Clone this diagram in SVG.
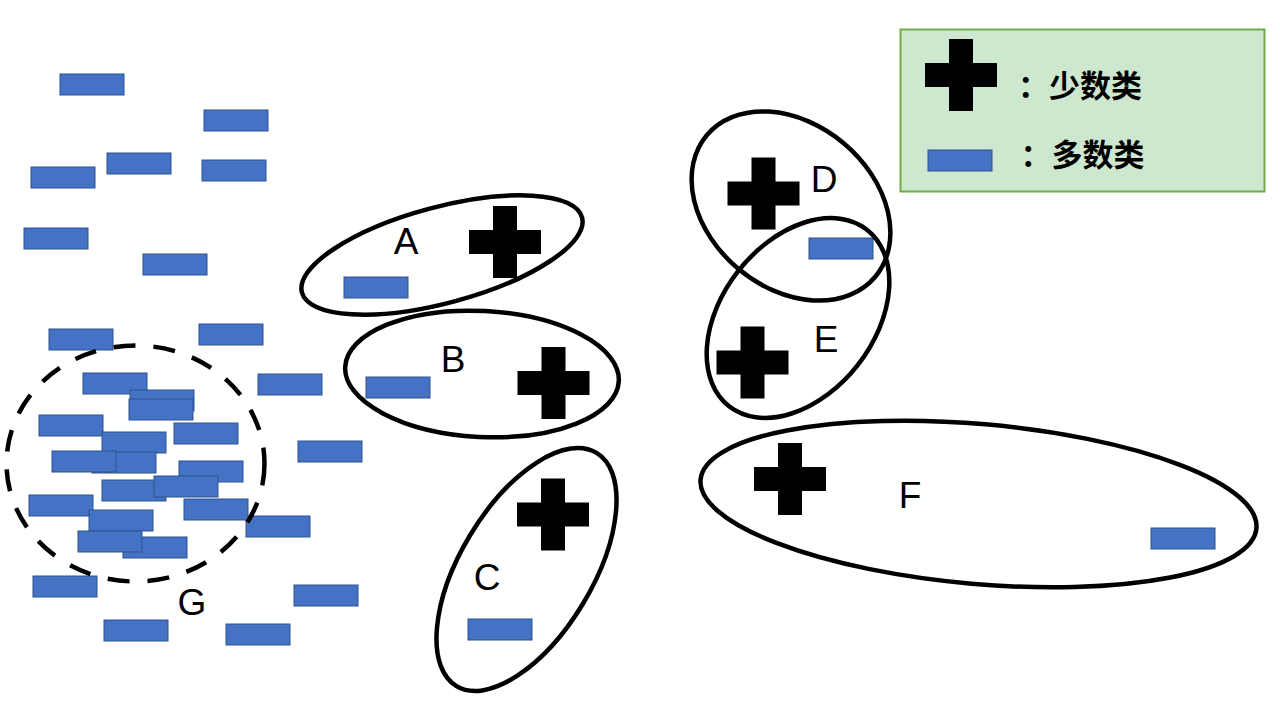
<svg xmlns="http://www.w3.org/2000/svg" xmlns:xlink="http://www.w3.org/1999/xlink" width="1280" height="720" viewBox="0 0 1280 720">
<style>
.maj{fill:#4472C4;stroke:#2F528F;stroke-width:1}
.ring{fill:none;stroke:#000;stroke-width:4.5}
.dash{fill:none;stroke:#000;stroke-width:4.5;stroke-dasharray:22 18}
.lbl{font-family:"Liberation Sans",Arial,sans-serif;font-size:37px;fill:#000;text-anchor:middle}
.leg{font-family:"Noto Sans CJK SC","Noto Sans",sans-serif;font-size:31px;font-weight:bold;fill:#000}
</style>
<defs>
<path id="plus" d="M-12,-36h24v24h24v24h-24v24h-24v-24h-24v-24h24z" fill="#000"/>
<rect id="neg" class="maj" x="0" y="0" width="64" height="21"/>
</defs>
<rect width="1280" height="720" fill="#fff"/>

<g id="scatter">
<use xlink:href="#neg" x="60" y="74"/>
<use xlink:href="#neg" x="204" y="110"/>
<use xlink:href="#neg" x="107" y="153"/>
<use xlink:href="#neg" x="31" y="167"/>
<use xlink:href="#neg" x="202" y="160"/>
<use xlink:href="#neg" x="24" y="228"/>
<use xlink:href="#neg" x="143" y="254"/>
<use xlink:href="#neg" x="49" y="329"/>
<use xlink:href="#neg" x="199" y="324"/>
<use xlink:href="#neg" x="258" y="374"/>
<use xlink:href="#neg" x="298" y="441"/>
<use xlink:href="#neg" x="246" y="516"/>
<use xlink:href="#neg" x="33" y="576"/>
<use xlink:href="#neg" x="294" y="585"/>
<use xlink:href="#neg" x="104" y="620"/>
<use xlink:href="#neg" x="226" y="624"/>
</g>

<g id="G">
<use xlink:href="#neg" x="83" y="373"/>
<use xlink:href="#neg" x="130" y="390"/>
<use xlink:href="#neg" x="129" y="399"/>
<use xlink:href="#neg" x="39" y="415"/>
<use xlink:href="#neg" x="102" y="432"/>
<use xlink:href="#neg" x="174" y="423"/>
<use xlink:href="#neg" x="92" y="452"/>
<use xlink:href="#neg" x="52" y="451"/>
<use xlink:href="#neg" x="179" y="461"/>
<use xlink:href="#neg" x="102" y="480"/>
<use xlink:href="#neg" x="154" y="476"/>
<use xlink:href="#neg" x="29" y="495"/>
<use xlink:href="#neg" x="184" y="499"/>
<use xlink:href="#neg" x="89" y="510"/>
<use xlink:href="#neg" x="123" y="537"/>
<use xlink:href="#neg" x="78" y="531"/>
<ellipse class="dash" cx="135.5" cy="463.5" rx="129" ry="118"/>
<text class="lbl" x="192" y="615">G</text>
</g>

<g id="A">
<use xlink:href="#neg" x="344" y="277"/>
<use xlink:href="#plus" x="505" y="242"/>
<ellipse class="ring" cx="442" cy="255" rx="145" ry="48" transform="rotate(-15 442 255)"/>
<text class="lbl" x="406" y="254">A</text>
</g>

<g id="B">
<use xlink:href="#neg" x="366" y="377"/>
<use xlink:href="#plus" x="553.5" y="383"/>
<ellipse class="ring" cx="482" cy="374" rx="137" ry="63" transform="rotate(3 482 374)"/>
<text class="lbl" x="453" y="372">B</text>
</g>

<g id="C">
<use xlink:href="#neg" x="468" y="619"/>
<use xlink:href="#plus" x="553" y="514.5"/>
<ellipse class="ring" cx="526.5" cy="569.5" rx="66" ry="136" transform="rotate(31 526.5 569.5)"/>
<text class="lbl" x="487" y="590">C</text>
</g>

<g id="D">
<use xlink:href="#neg" x="809" y="238"/>
<use xlink:href="#plus" x="763.5" y="193.5"/>
<ellipse class="ring" cx="791" cy="206" rx="82" ry="110" transform="rotate(-50 791 206)"/>
<text class="lbl" x="824" y="192">D</text>
</g>

<g id="E">
<use xlink:href="#plus" x="752.5" y="362.5"/>
<ellipse class="ring" cx="798" cy="318" rx="76" ry="112" transform="rotate(38 798 318)"/>
<text class="lbl" x="826" y="352">E</text>
</g>

<g id="F">
<use xlink:href="#neg" x="1151" y="528"/>
<use xlink:href="#plus" x="790" y="479"/>
<ellipse class="ring" cx="978.5" cy="504" rx="279" ry="80" transform="rotate(5 978.5 504)"/>
<text class="lbl" x="910" y="508">F</text>
</g>

<g id="legend">
<rect x="900.5" y="29.5" width="364" height="162" fill="#CDE8CF" stroke="#70AD47" stroke-width="2"/>
<use xlink:href="#plus" x="961" y="75"/>
<rect class="maj" x="928" y="150" width="64" height="21"/>
<text class="leg" x="1018" y="97">：少数类</text>
<text class="leg" x="1020.5" y="166">：多数类</text>
</g>
</svg>
